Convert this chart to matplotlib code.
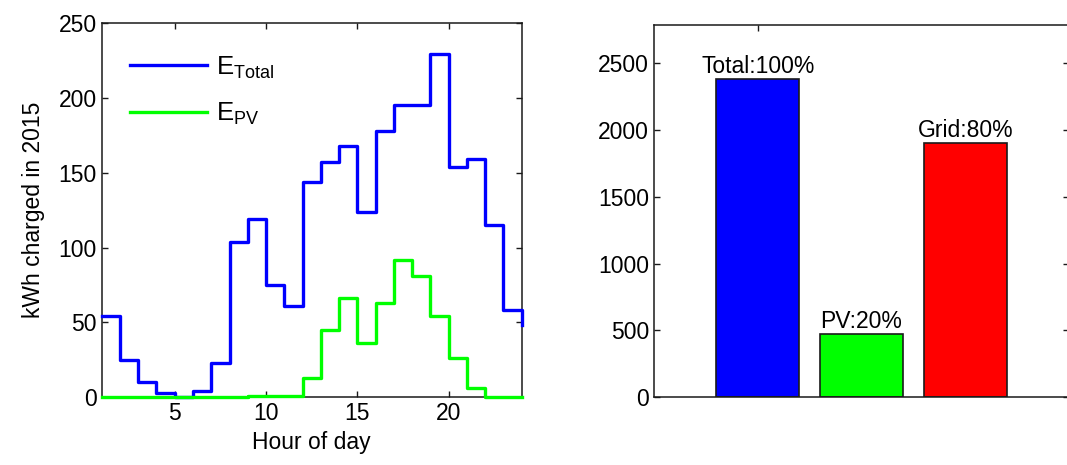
import matplotlib
matplotlib.use("Agg")
import matplotlib.pyplot as plt

plt.rcParams["font.family"] = ["Liberation Sans", "DejaVu Sans"]
plt.rcParams["mathtext.fontset"] = "custom"
plt.rcParams["mathtext.rm"] = "Liberation Sans"

# hourly charging energy over the year (kWh)
hours = list(range(1, 25))
e_total = [54, 25, 10, 3, 0, 4, 23, 104, 119, 75, 61, 144,
           157, 168, 124, 178, 195, 195, 229, 154, 159, 115, 58, 48]
e_pv = [0, 0, 0, 0, 0, 0, 0, 0, 1, 1, 1, 13,
        45, 66, 36, 63, 92, 81, 54, 26, 6, 0, 0, 0]

# yearly totals by source (kWh)
sources = ["Total", "PV", "Grid"]
source_kwh = [2382, 476, 1906]
source_colors = ["#0000ff", "#00ff00", "#ff0000"]

FS = 16.5
INK = "#1a1a1a"


def matlab_box(ax):
    for spine in ax.spines.values():
        spine.set_color(INK)
        spine.set_linewidth(1.1)
    ax.tick_params(direction="in", length=4, width=1.0, colors=INK,
                   labelsize=FS, labelcolor="black", top=True, right=True)


fig = plt.figure(figsize=(10.67, 4.65), dpi=100)

# left: hourly profile
ax1 = fig.add_axes([0.0953, 0.1456, 0.3937, 0.8049])
ax1.step(hours, e_total, where="post", color="#0000ff", lw=2.4,
         label=r"$\mathregular{E_{Total}}$", clip_on=False, zorder=3)
ax1.step(hours, e_pv, where="post", color="#00ff00", lw=2.4,
         label=r"$\mathregular{E_{PV}}$", clip_on=False, zorder=3)
ax1.set_xlim(1, 24)
ax1.set_ylim(0, 250)
ax1.set_xticks([5, 10, 15, 20])
ax1.set_yticks([0, 50, 100, 150, 200, 250])
ax1.set_xlabel("Hour of day", fontsize=FS, labelpad=4)
ax1.set_ylabel("kWh charged in 2015", fontsize=FS, labelpad=10)
matlab_box(ax1)
ax1.legend(loc="upper left", bbox_to_anchor=(0.067, 0.916), frameon=False,
           fontsize=18.5, handlelength=3.0, handletextpad=0.35,
           labelspacing=0.78, borderpad=0, borderaxespad=0)

# right: share of each source
ax2 = fig.add_axes([0.613, 0.1456, 0.3888, 0.8017])
pos = [1, 2, 3]
bars = ax2.bar(pos, source_kwh, width=0.8, color=source_colors,
               edgecolor=INK, linewidth=1.2)
total = source_kwh[0]
for x, name, val in zip(pos, sources, source_kwh):
    pct = round(100 * val / total)
    ax2.annotate(f"{name}:{pct}%", xy=(x, val), xytext=(0, 4),
                 textcoords="offset points", ha="center", va="baseline",
                 fontsize=FS)
ax2.set_xlim(0, 4)
ax2.set_ylim(0, 2790)
ax2.set_yticks([0, 500, 1000, 1500, 2000, 2500])
ax2.set_xticks([1])
matlab_box(ax2)
ax2.tick_params(axis="x", bottom=False, labelbottom=False)

fig.savefig("out.png", dpi=100)
